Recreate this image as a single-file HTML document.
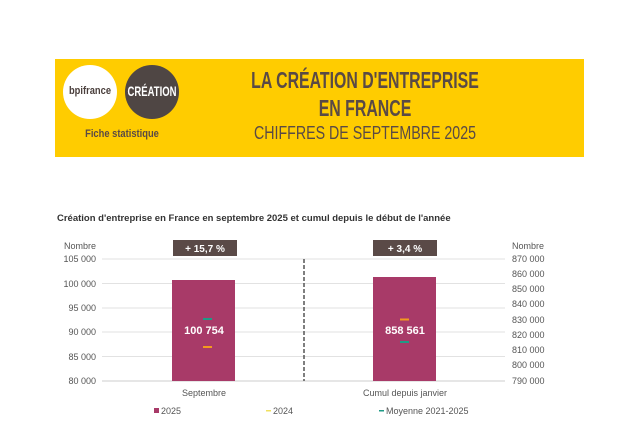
<!DOCTYPE html>
<html><head><meta charset="utf-8"><style>
body{margin:0;width:640px;height:430px;background:#fff;position:relative;overflow:hidden;font-family:"Liberation Sans",sans-serif}
.a{position:absolute;white-space:nowrap}
</style></head><body>
<div class="a" style="left:55px;top:59px;width:529px;height:98px;background:#FFCC00"></div>
<div class="a" style="left:63px;top:65px;width:54px;height:54px;border-radius:50%;background:#fff"></div>
<div class="a" style="left:63px;top:85px;width:54px;text-align:center;font-size:11px;font-weight:bold;color:#4a3f3c;transform:scaleX(0.85)">bpifrance</div>
<div class="a" style="left:125px;top:65px;width:54px;height:54px;border-radius:50%;background:#4f4644"></div>
<div class="a" style="left:115px;top:83px;width:74px;text-align:center;font-size:14px;font-weight:bold;color:#fff;transform:scaleX(0.68)">CRÉATION</div>
<div class="a" style="left:62px;top:128px;width:120px;text-align:center;font-size:11px;font-weight:bold;color:#5a4a45;transform:scaleX(0.85)">Fiche statistique</div>
<div class="a" style="left:175px;top:67px;width:380px;text-align:center;font-size:23px;font-weight:bold;color:#5a4a45;transform:scaleX(0.69)">LA CRÉATION D'ENTREPRISE</div>
<div class="a" style="left:175px;top:95px;width:380px;text-align:center;font-size:23px;font-weight:bold;color:#5a4a45;transform:scaleX(0.69)">EN FRANCE</div>
<div class="a" style="left:175px;top:123px;width:380px;text-align:center;font-size:18px;color:#5a4a45;transform:scaleX(0.79)">CHIFFRES DE SEPTEMBRE 2025</div>
<div class="a" style="left:57px;top:213px;font-size:9.5px;font-weight:bold;color:#333">Création d'entreprise en France en septembre 2025 et cumul depuis le début de l'année</div>
<svg class="a" style="left:0;top:0" width="640" height="430" font-family="Liberation Sans,sans-serif" font-size="9" fill="#555">
<g stroke="#e2e2e2" stroke-width="1">
<line x1="102" x2="505" y1="259" y2="259"/><line x1="102" x2="505" y1="283.5" y2="283.5"/><line x1="102" x2="505" y1="308" y2="308"/><line x1="102" x2="505" y1="332" y2="332"/><line x1="102" x2="505" y1="356.5" y2="356.5"/><line x1="102" x2="505" y1="381" y2="381" stroke="#ccc"/>
</g>
<g text-anchor="end"><text x="96" y="249">Nombre</text><text x="96" y="262">105 000</text><text x="96" y="287">100 000</text><text x="96" y="311">95 000</text><text x="96" y="335">90 000</text><text x="96" y="360">85 000</text><text x="96" y="384">80 000</text></g>
<g><text x="512" y="249">Nombre</text><text x="512" y="262">870 000</text><text x="512" y="277">860 000</text><text x="512" y="292">850 000</text><text x="512" y="307">840 000</text><text x="512" y="323">830 000</text><text x="512" y="338">820 000</text><text x="512" y="353">810 000</text><text x="512" y="368">800 000</text><text x="512" y="384">790 000</text></g>
<line x1="304" x2="304" y1="259" y2="381" stroke="#555" stroke-width="1.5" stroke-dasharray="4,2"/>
<rect x="172" y="280" width="63" height="101" fill="#A83A68"/>
<rect x="373" y="277" width="63" height="104" fill="#A83A68"/>
<rect x="173" y="240" width="64" height="16" fill="#5a4a47"/><text x="205" y="252" text-anchor="middle" fill="#fff" font-weight="bold" font-size="10">+ 15,7 %</text>
<rect x="373" y="240" width="64" height="16" fill="#5a4a47"/><text x="405" y="252" text-anchor="middle" fill="#fff" font-weight="bold" font-size="10">+ 3,4 %</text>
<rect x="203" y="318" width="9" height="2" fill="#1f9a86"/><rect x="203" y="346" width="9" height="2" fill="#f39a1e"/>
<rect x="400" y="318.5" width="9" height="2" fill="#f39a1e"/><rect x="400" y="341" width="9" height="2" fill="#1f9a86"/>
<text x="204" y="334" text-anchor="middle" fill="#fff" font-weight="bold" font-size="11">100 754</text>
<text x="405" y="334" text-anchor="middle" fill="#fff" font-weight="bold" font-size="11">858 561</text>
<text x="204" y="396" text-anchor="middle">Septembre</text>
<text x="405" y="396" text-anchor="middle">Cumul depuis janvier</text>
<rect x="154" y="408" width="5" height="5" fill="#A83A68"/><text x="161" y="414">2025</text>
<rect x="266" y="410" width="5" height="1.5" fill="#f0e060"/><text x="273" y="414">2024</text>
<rect x="379" y="410" width="5" height="1.5" fill="#1f9a86"/><text x="386" y="414">Moyenne 2021-2025</text>
</svg>
</body></html>
